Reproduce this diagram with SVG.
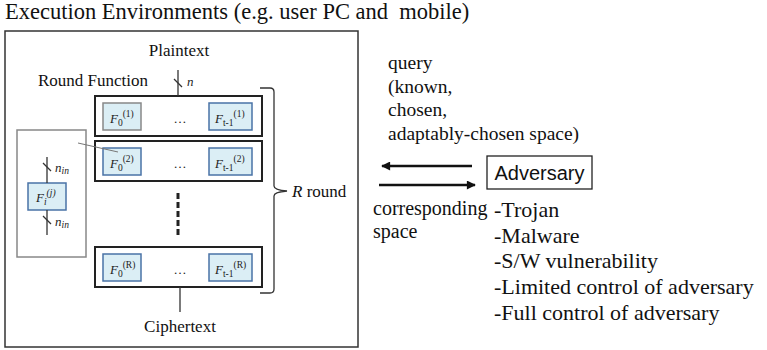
<svg xmlns="http://www.w3.org/2000/svg" width="767" height="350" viewBox="0 0 767 350">
<style>
.serif{font-family:"Liberation Serif","Times New Roman",serif;fill:#111}
.fl{font-family:"Liberation Serif","Times New Roman",serif;font-size:13px;fill:#222}
.it{font-style:italic}
.sub{font-size:9.5px}
.round{fill:#fff;stroke:#222;stroke-width:2}
.fbox{fill:#dbeef5;stroke:#4a73a6;stroke-width:1.5}
.fgrey{fill:#dbeef5;stroke:#888;stroke-width:1.5}
.ln{stroke:#333;stroke-width:1.3;fill:none}
.arr{stroke:#111;stroke-width:2.5;fill:none}
</style>
<defs>
<marker id="ah" viewBox="0 0 10 10" refX="9" refY="5" markerWidth="4" markerHeight="3.6" orient="auto" markerUnits="strokeWidth">
<path d="M0,0 L10,5 L0,10 z" fill="#111"/>
</marker>
</defs>
<text class="serif" x="5" y="19" font-size="22.5" xml:space="preserve">Execution Environments (e.g. user PC and  mobile)</text>
<g id="environment">
<rect x="5" y="31" width="353" height="316" fill="none" stroke="#333" stroke-width="1.5"/>
<text class="serif" x="179" y="56" font-size="17" text-anchor="middle">Plaintext</text>
<text class="serif" x="38" y="86" font-size="17">Round Function</text>
<text class="serif" x="180" y="332" font-size="17" text-anchor="middle">Ciphertext</text>
</g>
<g id="round1">
<rect class="round" x="95" y="96" width="167" height="40"/>
<rect class="fgrey" x="103" y="103" width="38" height="27"/>
<text class="fl" x="110" y="123"><tspan class="it">F</tspan><tspan class="sub" dy="3">0</tspan><tspan class="sub" dy="-9">(1)</tspan></text>
<text class="fl" x="180" y="123" text-anchor="middle" fill="#666">…</text>
<rect class="fbox" x="209" y="103" width="43" height="27"/>
<text class="fl" x="215" y="123"><tspan class="it">F</tspan><tspan class="sub" dy="3">t-1</tspan><tspan class="sub" dy="-9">(1)</tspan></text>
</g>
<g id="round2">
<rect class="round" x="95" y="141" width="167" height="40"/>
<rect class="fbox" x="103" y="148" width="38" height="27"/>
<text class="fl" x="110" y="168"><tspan class="it">F</tspan><tspan class="sub" dy="3">0</tspan><tspan class="sub" dy="-9">(2)</tspan></text>
<text class="fl" x="180" y="168" text-anchor="middle" fill="#666">…</text>
<rect class="fbox" x="209" y="148" width="43" height="27"/>
<text class="fl" x="215" y="168"><tspan class="it">F</tspan><tspan class="sub" dy="3">t-1</tspan><tspan class="sub" dy="-9">(2)</tspan></text>
</g>
<g id="roundR">
<rect class="round" x="95" y="247" width="167" height="40"/>
<rect class="fbox" x="103" y="254" width="38" height="27"/>
<text class="fl" x="110" y="274"><tspan class="it">F</tspan><tspan class="sub" dy="3">0</tspan><tspan class="sub" dy="-9">(R)</tspan></text>
<text class="fl" x="180" y="274" text-anchor="middle" fill="#666">…</text>
<rect class="fbox" x="209" y="254" width="43" height="27"/>
<text class="fl" x="215" y="274"><tspan class="it">F</tspan><tspan class="sub" dy="3">t-1</tspan><tspan class="sub" dy="-9">(R)</tspan></text>
</g>
<g id="detail">
<rect x="17" y="130" width="69" height="127" fill="#fff" stroke="#888" stroke-width="1.5"/>
<rect class="fbox" x="28" y="183" width="38" height="27"/>
<text class="fl" x="36" y="202"><tspan class="it">F</tspan><tspan class="sub it" dy="3">i</tspan><tspan class="sub it" dy="-9">(j)</tspan></text>
<text class="fl" x="55" y="172"><tspan class="it">n</tspan><tspan class="sub it" dy="2">in</tspan></text>
<text class="fl" x="55" y="226"><tspan class="it">n</tspan><tspan class="sub it" dy="2">in</tspan></text>
</g>
<g id="adversary">
<rect x="487" y="156" width="105" height="33" fill="#fff" stroke="#222" stroke-width="1.3"/>
<text x="539.5" y="180" font-family="Liberation Sans, Arial, sans-serif" font-size="20" text-anchor="middle" fill="#111">Adversary</text>
</g>
<g id="labels">
<text class="serif" x="388" y="69" font-size="19.5">query</text>
<text class="serif" x="388" y="92.5" font-size="19.5">(known,</text>
<text class="serif" x="388" y="116" font-size="19.5">chosen,</text>
<text class="serif" x="388" y="139.5" font-size="19.5">adaptably-chosen space)</text>
<text class="serif" x="373" y="215" font-size="20">corresponding</text>
<text class="serif" x="373" y="238" font-size="20">space</text>
<text class="serif" x="494" y="217" font-size="22">-Trojan</text>
<text class="serif" x="494" y="242.5" font-size="22">-Malware</text>
<text class="serif" x="494" y="268" font-size="22">-S/W vulnerability</text>
<text class="serif" x="494" y="294" font-size="22">-Limited control of adversary</text>
<text class="serif" x="494" y="319.5" font-size="22">-Full control of adversary</text>
<text class="serif" x="292" y="197" font-size="17"><tspan class="it">R</tspan> round</text>
<text class="fl it" x="187" y="86">n</text>
</g>
<g id="connectors">
<line class="ln" x1="178" y1="70" x2="178" y2="96"/>
<line class="ln" x1="174" y1="79" x2="182" y2="87"/>
<line class="ln" x1="180" y1="287" x2="180" y2="312"/>
<line x1="178" y1="193" x2="178" y2="236" stroke="#222" stroke-width="3" stroke-dasharray="6,3"/>
<path class="ln" d="M260,88 H270 Q274,88 274,92 V186 Q274,190 287,191 Q274,192 274,196 V289 Q274,293 270,293 H260" stroke="#222" stroke-width="1.5"/>
<line class="ln" x1="47" y1="157" x2="47" y2="183" stroke="#111"/>
<line class="ln" x1="47" y1="210" x2="47" y2="235" stroke="#111"/>
<line class="ln" x1="43" y1="163" x2="51" y2="171" stroke="#111"/>
<line class="ln" x1="43" y1="216" x2="51" y2="224" stroke="#111"/>
<line x1="78" y1="143" x2="118" y2="152" stroke="#777" stroke-width="1"/>
<line class="arr" x1="472" y1="166" x2="382" y2="166" marker-end="url(#ah)"/>
<line class="arr" x1="379" y1="185" x2="475" y2="185" marker-end="url(#ah)"/>
</g>
</svg>
